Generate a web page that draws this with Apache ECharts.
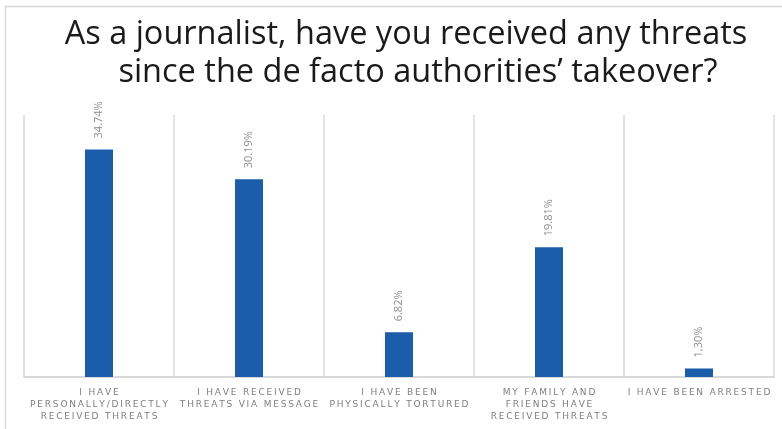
<!DOCTYPE html>
<html>
<head>
<meta charset="utf-8">
<style>
  html, body { margin: 0; padding: 0; background: #ffffff; }
  #chart { width: 782px; height: 429px; }
</style>
<script src="https://cdn.jsdelivr.net/npm/echarts@6/dist/echarts.min.js"></script>
</head>
<body>
<div id="chart"></div>
<script>
// Survey answers (multi-line category labels)
const categories = [
  'I HAVE\nPERSONALLY/DIRECTLY\nRECEIVED THREATS',
  'I HAVE RECEIVED\nTHREATS VIA MESSAGE',
  'I HAVE BEEN\nPHYSICALLY TORTURED',
  'MY FAMILY AND\nFRIENDS HAVE\nRECEIVED THREATS',
  'I HAVE BEEN ARRESTED'
];
// Share of respondents, in percent
const values = [34.74, 30.19, 6.82, 19.81, 1.30];
// Decimal separator used in each printed value
const separators = ['.', '.', '.', '.', ','];

const titleLines = [
  'As a journalist, have you received any threats',
  'since the de facto authorities\u2019 takeover?'
];

// Widen letter spacing of the category labels with thin spaces
function spaced(text) {
  return text.split('\n').map(function (line) {
    return line.split('').join('\u2009');
  }).join('\n');
}

const titleFont = '32.5px "Open Sans"';

const chart = echarts.init(document.getElementById('chart'), null, { renderer: 'canvas' });

chart.setOption({
  animation: false,
  backgroundColor: '#ffffff',
  graphic: [
    {
      type: 'rect',
      shape: { x: 5.5, y: 6.5, width: 900, height: 600 },
      style: { fill: 'none', stroke: '#d9d9d9', lineWidth: 1.5 },
      silent: true,
      z: -10
    },
    {
      type: 'text',
      x: 406,
      y: 18,
      style: {
        text: titleLines[0],
        align: 'center',
        verticalAlign: 'top',
        fill: '#1a1a1a',
        font: titleFont
      }
    },
    {
      type: 'text',
      x: 418,
      y: 56,
      style: {
        text: titleLines[1],
        align: 'center',
        verticalAlign: 'top',
        fill: '#1a1a1a',
        font: titleFont
      }
    }
  ],
  grid: { left: 24, right: 8, top: 115, bottom: 52, containLabel: false },
  xAxis: {
    type: 'category',
    data: categories,
    boundaryGap: true,
    axisLine: { show: true, lineStyle: { color: '#d9d9d9', width: 2 } },
    axisTick: { show: false },
    splitLine: { show: true, lineStyle: { color: '#d9d9d9', width: 1.5 } },
    axisLabel: {
      interval: 0,
      margin: 10,
      color: '#7e7e7e',
      fontFamily: 'DejaVu Sans',
      fontSize: 9,
      lineHeight: 12,
      formatter: function (v) { return spaced(v); }
    }
  },
  yAxis: {
    type: 'value',
    min: 0,
    max: 40,
    show: false,
    splitLine: { show: false }
  },
  series: [
    {
      type: 'bar',
      data: values,
      barWidth: 28,
      itemStyle: { color: '#1b5dab' },
      label: {
        show: true,
        position: 'top',
        rotate: 90,
        align: 'left',
        verticalAlign: 'middle',
        distance: 11,
        color: '#8f8f8f',
        fontFamily: 'Open Sans',
        fontSize: 11,
        formatter: function (p) {
          return p.value.toFixed(2).replace('.', separators[p.dataIndex]) + '%';
        }
      }
    }
  ]
});
</script>
</body>
</html>
